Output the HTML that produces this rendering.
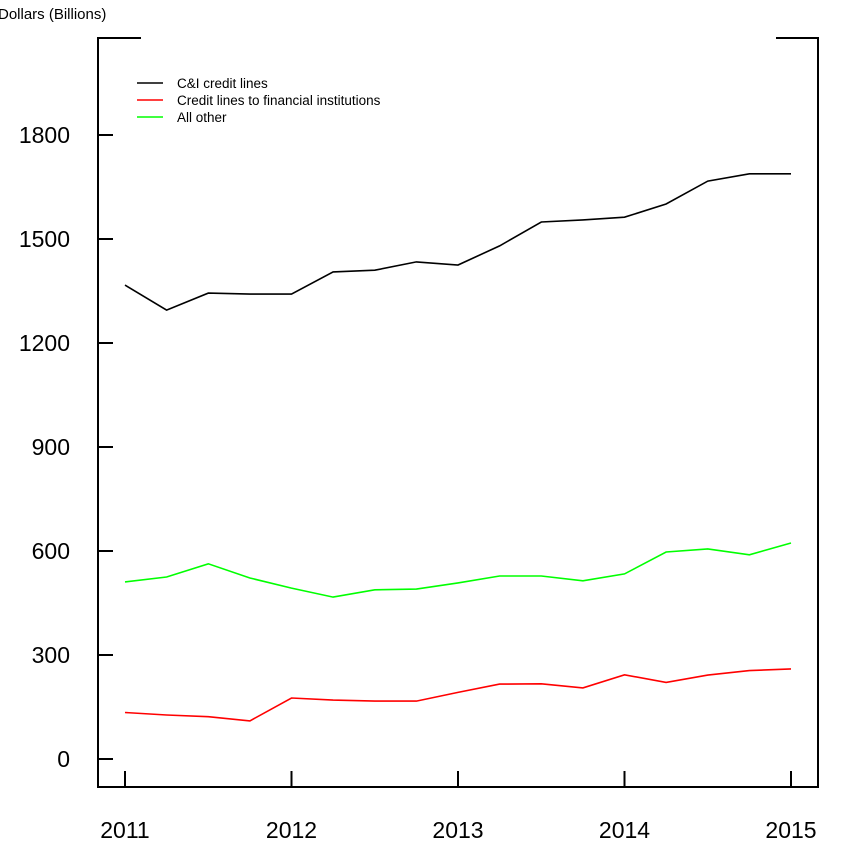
<!DOCTYPE html>
<html><head><meta charset="utf-8"><style>
html,body{margin:0;padding:0;background:#fff}
svg{display:block;font-family:"Liberation Sans",Arial,sans-serif}
</style></head><body>
<svg id="chart" width="854" height="848">
<text x="-2" y="19" font-size="15">Dollars (Billions)</text>
<g id="frame" stroke="#000" stroke-width="2" fill="none">
<path d="M141,38 H98 V787 H818 V38 H776"/>
</g>
<g id="yaxis"></g>
<g id="xaxis"></g>
<g id="series"></g>
<g font-size="13.5">
<line x1="137" y1="83" x2="163" y2="83" stroke="#000" stroke-width="1.5"/>
<text x="177" y="88">C&amp;I credit lines</text>
<line x1="137" y1="100" x2="163" y2="100" stroke="#f00" stroke-width="1.5"/>
<text x="177" y="105">Credit lines to financial institutions</text>
<line x1="137" y1="117" x2="163" y2="117" stroke="#0f0" stroke-width="1.5"/>
<text x="177" y="122">All other</text>
</g>
</svg>
<script>
const yTicks = [0, 300, 600, 900, 1200, 1500, 1800];
const xTicks = [2011, 2012, 2013, 2014, 2015];
const dates = [2011,2011.25,2011.5,2011.75,2012,2012.25,2012.5,2012.75,2013,2013.25,2013.5,2013.75,2014,2014.25,2014.5,2014.75,2015];
const ciLines = [1367,1295,1344,1341,1341,1405,1410,1434,1425,1480,1549,1555,1563,1601,1667,1688,1688];
const financialLines = [134,127,122,110,176,170,167,167,192,216,217,205,243,221,242,255,260];
const allOther = [511,525,563,522,493,467,488,490,508,528,528,514,534,597,606,589,623];

const NS = "http://www.w3.org/2000/svg";
function xs(v){ return 125 + (v - 2011) * 166.5; }
function ys(v){ return 759 - v * 104 / 300; }
function mk(tag, attrs, parent){
  const e = document.createElementNS(NS, tag);
  for (const k in attrs) e.setAttribute(k, attrs[k]);
  parent.appendChild(e); return e;
}
const yg = document.getElementById('yaxis');
yTicks.forEach(t => {
  const l = mk('line', {x1:98, x2:113, y1:ys(t), y2:ys(t), stroke:'#000', 'stroke-width':2}, yg);
  
  
  const tx = mk('text', {x:70, y:ys(t)+8, 'font-size':23, 'text-anchor':'end'}, yg);
  tx.textContent = t;
  
  
});
const xg = document.getElementById('xaxis');
xTicks.forEach(t => {
  const l = mk('line', {x1:xs(t), x2:xs(t), y1:771, y2:787, stroke:'#000', 'stroke-width':2}, xg);
  
  
  const tx = mk('text', {x:xs(t), y:838, 'font-size':23, 'text-anchor':'middle'}, xg);
  tx.textContent = t;
  
  
});
const sg = document.getElementById('series');
[[ciLines,'#000','line-ci-credit-lines'],[financialLines,'#f00','line-financial-institutions'],[allOther,'#0f0','line-all-other']].forEach(([arr,c,n]) => {
  const pts = arr.map((v,i) => xs(dates[i]).toFixed(1) + ',' + ys(v).toFixed(1)).join(' ');
  const p = mk('polyline', {points:pts, fill:'none', stroke:c, 'stroke-width':1.6}, sg);
  
  
});
</script>
</body></html>
